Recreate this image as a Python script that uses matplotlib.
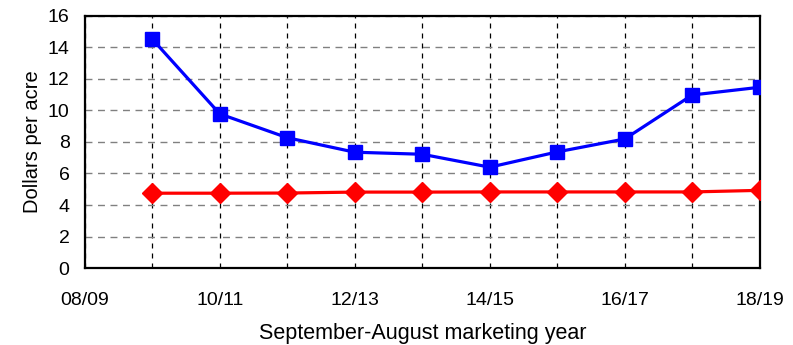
import matplotlib
matplotlib.use("Agg")
import matplotlib.pyplot as plt

plt.rcParams['font.family'] = ['Liberation Sans', 'DejaVu Sans']

# Marketing years (Sept-Aug)
years = ["08/09", "09/10", "10/11", "11/12", "12/13", "13/14",
         "14/15", "15/16", "16/17", "17/18", "18/19"]
tick_labels = ["08/09", "10/11", "12/13", "14/15", "16/17", "18/19"]

# Dollars per acre, 09/10 through 18/19
blue_values = [14.52, 9.78, 8.27, 7.35, 7.22, 6.4, 7.37, 8.19, 10.98, 11.47]
red_values = [4.75, 4.75, 4.76, 4.82, 4.82, 4.83, 4.83, 4.83, 4.83, 4.93]

x_all = list(range(len(years)))
x_series = x_all[1:]

fig = plt.figure(figsize=(7.93, 3.45), dpi=100)
ax = fig.add_axes([0.107, 0.223, 0.851, 0.731])

ax.plot(x_series, blue_values, color="#0000ff", lw=2.3, marker="s",
        markersize=9.5, zorder=3)
ax.plot(x_series, red_values, color="#ff0000", lw=2.3, marker="D",
        markersize=10, zorder=3)

ax.set_xlim(0, 10)
ax.set_ylim(0, 16)
ax.set_yticks(range(0, 17, 2))
ax.set_xticks(x_all)
ax.set_xticklabels([y if y in tick_labels else "" for y in years])
ax.tick_params(axis="both", length=0, labelsize=14)
ax.tick_params(axis="x", pad=17)
ax.tick_params(axis="y", pad=11)

ax.xaxis.grid(True, color="black", linestyle=(0, (4, 4)), lw=0.9)
ax.yaxis.grid(True, color="#808080", linestyle=(0, (5, 4)), lw=1.0)
ax.set_axisbelow(True)

for s in ax.spines.values():
    s.set_linewidth(1.6)
    s.set_color("black")

ax.set_ylabel("Dollars per acre", fontsize=14.5, labelpad=4)
ax.set_xlabel("September-August marketing year", fontsize=15.5, labelpad=10)

fig.savefig("out.png", dpi=100)
